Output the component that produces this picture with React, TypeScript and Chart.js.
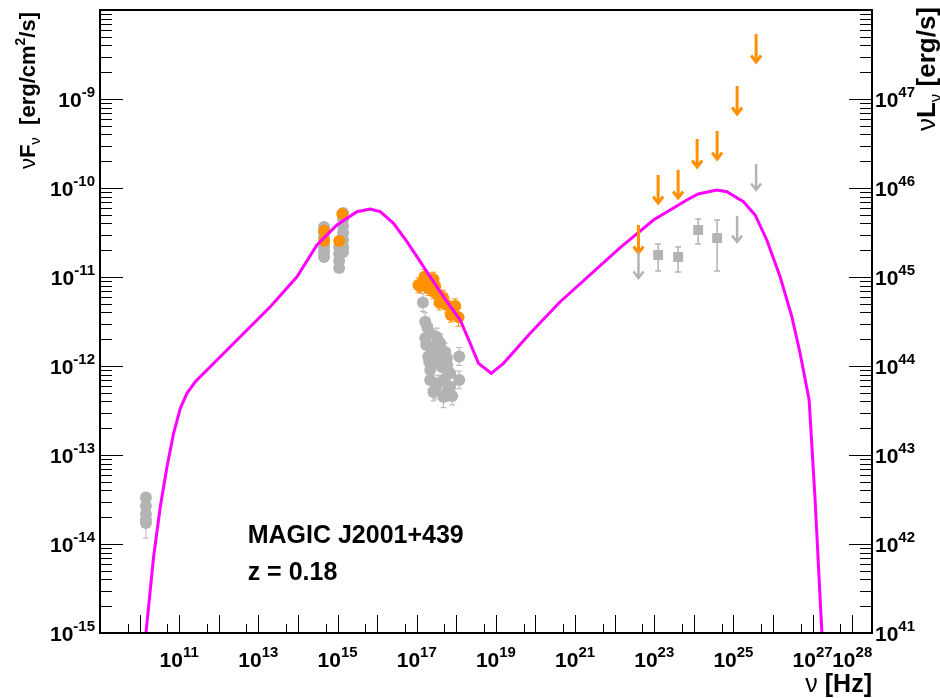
import React, { useEffect, useRef } from "react";
import { Chart, registerables } from "chart.js";
Chart.register(...registerables);

// ---------- data (log10 values) ----------
// SSC model curve
const modelLogNu = [10.15, 10.354, 10.523, 10.692, 10.859, 11.028, 11.197, 11.407, 11.785, 12.543, 13.301, 13.975, 14.48, 14.985, 15.49, 15.826, 16.078, 16.414, 16.753, 17.088, 17.424, 17.763, 18.098, 18.351, 18.561, 18.881, 19.192, 19.866, 20.624, 22.139, 22.98, 23.823, 24.109, 24.581, 24.833, 25.253, 25.548, 25.843, 26.179, 26.475, 26.684, 26.912, 27.063, 27.24];
const modelLogFlux = [-15.05, -14.143, -13.581, -13.131, -12.756, -12.475, -12.307, -12.176, -12.008, -11.671, -11.334, -10.997, -10.64, -10.416, -10.266, -10.236, -10.266, -10.397, -10.603, -10.828, -11.053, -11.278, -11.483, -11.745, -11.97, -12.082, -11.97, -11.633, -11.278, -10.671, -10.36, -10.135, -10.067, -10.022, -10.042, -10.154, -10.303, -10.584, -10.997, -11.446, -11.857, -12.382, -13.506, -15.05];

// archival (gray) data
const grayRadioLogNu = [10.16, 10.16, 10.16, 10.16, 10.16];
const grayRadioLogFlux = [-13.478, -13.573, -13.663, -13.73, -13.764];
const grayRadioErr = [0.05, 0.05, 0.05, 0.05, 0.17];

const grayOptLogNu = [14.66, 14.66, 14.66, 14.66, 14.66, 14.66, 14.66, 15.14, 15.14, 15.14, 15.14, 15.14, 15.14, 15.14, 15.04, 15.04, 15.04, 15.04];
const grayOptLogFlux = [-10.438, -10.494, -10.551, -10.607, -10.663, -10.719, -10.775, -10.281, -10.348, -10.427, -10.506, -10.584, -10.663, -10.719, -10.663, -10.742, -10.82, -10.899];
const grayOptErr = [0.03, 0.03, 0.03, 0.03, 0.03, 0.03, 0.03, 0.03, 0.03, 0.03, 0.03, 0.03, 0.03, 0.03, 0.03, 0.03, 0.03, 0.03];

const grayXrayLogNu = [17.157, 17.215, 17.265, 17.341, 17.215, 17.51, 17.593, 17.72, 17.29, 17.763, 18.073, 17.341, 17.636, 17.846, 17.341, 17.677, 18.073, 17.467, 17.846, 17.424, 17.677, 17.896, 17.24, 17.391, 17.391, 17.517, 17.77, 17.517, 17.77, 17.316, 17.492];
const grayXrayLogFlux = [-11.287, -11.502, -11.562, -11.629, -11.685, -11.674, -11.742, -11.843, -11.896, -11.91, -11.893, -12.045, -12.011, -12.082, -12.157, -12.157, -12.157, -12.27, -12.236, -12.292, -12.348, -12.337, -11.764, -11.955, -11.798, -11.933, -11.989, -12.202, -12.292, -11.955, -11.843];
const grayXrayErr = [0.1, 0.1, 0.1, 0.1, 0.1, 0.1, 0.1, 0.1, 0.1, 0.1, 0.1, 0.1, 0.1, 0.1, 0.1, 0.1, 0.1, 0.1, 0.1, 0.1, 0.12, 0.1, 0.1, 0.1, 0.1, 0.1, 0.1, 0.1, 0.1, 0.1, 0.1];

// archival gamma-ray (gray squares) with asymmetric errors
const grayGammaLogNu = [23.098, 23.603, 24.109, 24.588];
const grayGammaLogFlux = [-10.753, -10.775, -10.472, -10.562];
const grayGammaLogLo = [-10.933, -10.944, -10.629, -10.933];
const grayGammaLogHi = [-10.629, -10.663, -10.348, -10.36];

// archival upper limits (gray)
const grayUlLogNu = [22.601, 25.093, 25.573];
const grayUlLogFlux = [-10.719, -10.315, -9.73];

// simultaneous (orange) data
const orangeOptLogNu = [14.664, 14.664, 15.119, 15.043];
const orangeOptLogFlux = [-10.48, -10.592, -10.292, -10.596];
const orangeOptErr = [0.03, 0.03, 0.03, 0.03];

const orangeXrayLogNu = [17.088, 17.197, 17.045, 17.323, 17.424, 17.298, 17.424, 17.551, 17.662, 17.467, 17.576, 17.763, 17.972, 17.864, 18.056];
const orangeXrayLogFlux = [-11.101, -10.997, -11.09, -11.034, -11.026, -11.127, -11.165, -11.202, -11.228, -11.101, -11.289, -11.315, -11.326, -11.427, -11.453];
const orangeXrayErr = [0.08, 0.08, 0.08, 0.08, 0.08, 0.08, 0.08, 0.08, 0.08, 0.08, 0.08, 0.08, 0.08, 0.08, 0.1];

// simultaneous upper limits (orange)
const orangeUlLogNu = [22.601, 23.098, 23.603, 24.083, 24.588, 25.093, 25.573];
const orangeUlLogFlux = [-10.416, -9.854, -9.798, -9.449, -9.36, -8.854, -8.27];

// axes
const xLogMin = 9;
const xLogMax = 28.5;
const yLogMin = -15;
const yLogMax = -8;
const y2LogMin = 41;
const y2LogMax = 48;
const xMajorDecades = [10, 11, 12, 13, 14, 15, 16, 17, 18, 19, 20, 21, 22, 23, 24, 25, 26, 27, 28];
const xMinorMantissa = [5];
const xLabelExponents = [11, 13, 15, 17, 19, 21, 23, 25, 27, 28];
const yLabelExponents = [-15, -14, -13, -12, -11, -10, -9];
const y2LabelExponents = [41, 42, 43, 44, 45, 46, 47];
const yMinorMantissa = [2, 3, 4, 5, 6, 7, 8, 9];

const sourceName = "MAGIC J2001+439";
const redshiftText = "z = 0.18";

// ---------- helpers ----------
const P = (v: number) => Math.pow(10, v);
const toPts = (lx: number[], ly: number[]) => lx.map((v, i) => ({ x: P(v), y: P(ly[i]) }));
const symErr = (ly: number[], e: number[], sign: number) => ly.map((v, i) => P(v + sign * e[i]));

const FONT = '"Liberation Sans", Arial, Helvetica, sans-serif';
const GRAY = "#b3b3b3";
const ORANGE = "#ff9000";
const MAGENTA = "#ff00ff";

type Part = { t: string; size: number; dy: number; bold?: boolean };

function richWidth(ctx: CanvasRenderingContext2D, parts: Part[]) {
  let w = 0;
  for (const p of parts) {
    ctx.font = `${p.bold === false ? "" : "bold "}${p.size}px ${FONT}`;
    w += ctx.measureText(p.t).width;
  }
  return w;
}
function drawRich(ctx: CanvasRenderingContext2D, parts: Part[], x: number, y: number) {
  let cx = x;
  for (const p of parts) {
    ctx.font = `${p.bold === false ? "" : "bold "}${p.size}px ${FONT}`;
    ctx.fillText(p.t, cx, y + p.dy);
    cx += ctx.measureText(p.t).width;
  }
}
function powParts(exp: number): Part[] {
  return [
    { t: "10", size: 21, dy: 0 },
    { t: String(exp), size: 15, dy: -10 },
  ];
}

const rootPlugin = {
  id: "rootStyle",
  beforeDatasetsDraw(chart: any) {
    const ctx: CanvasRenderingContext2D = chart.ctx;
    const ys = chart.scales.y;
    const area = chart.chartArea;
    ctx.save();
    ctx.beginPath();
    ctx.rect(area.left, area.top, area.right - area.left, area.bottom - area.top);
    ctx.clip();
    chart.data.datasets.forEach((ds: any, i: number) => {
      if (!ds.errLo) return;
      const meta = chart.getDatasetMeta(i);
      ctx.strokeStyle = ds.errColor;
      ctx.lineWidth = ds.errWidth || 1;
      meta.data.forEach((el: any, j: number) => {
        const yl = ys.getPixelForValue(ds.errLo[j]);
        const yh = ys.getPixelForValue(ds.errHi[j]);
        const cw = ds.capHalf || 3;
        ctx.beginPath();
        ctx.moveTo(el.x, yl);
        ctx.lineTo(el.x, yh);
        ctx.moveTo(el.x - cw, yl);
        ctx.lineTo(el.x + cw, yl);
        ctx.moveTo(el.x - cw, yh);
        ctx.lineTo(el.x + cw, yh);
        ctx.stroke();
      });
    });
    ctx.restore();
  },
  afterDatasetsDraw(chart: any) {
    const ctx: CanvasRenderingContext2D = chart.ctx;
    ctx.save();
    chart.data.datasets.forEach((ds: any, i: number) => {
      if (!ds.ulArrow) return;
      const meta = chart.getDatasetMeta(i);
      const a = ds.ulArrow;
      ctx.strokeStyle = a.color;
      ctx.lineWidth = a.width;
      ctx.lineCap = "butt";
      meta.data.forEach((el: any) => {
        const x = el.x;
        const y0 = el.y;
        const y1 = el.y + a.len;
        ctx.beginPath();
        ctx.moveTo(x, y0);
        ctx.lineTo(x, y1 - 1);
        ctx.stroke();
        ctx.beginPath();
        ctx.moveTo(x - a.head, y1 - a.head * 1.3);
        ctx.lineTo(x, y1);
        ctx.lineTo(x + a.head, y1 - a.head * 1.3);
        ctx.stroke();
      });
    });
    ctx.restore();
  },
  afterDraw(chart: any) {
    const ctx: CanvasRenderingContext2D = chart.ctx;
    const xs = chart.scales.x;
    const ys = chart.scales.y;
    const y2 = chart.scales.y2;
    const { left, right, top, bottom } = chart.chartArea;
    ctx.save();
    ctx.fillStyle = "#000";
    ctx.strokeStyle = "#000";

    // ticks
    ctx.lineWidth = 1;
    ctx.beginPath();
    for (const d of xMajorDecades) {
      const px = Math.round(xs.getPixelForValue(P(d))) + 0.5;
      if (px > right) continue;
      ctx.moveTo(px, bottom);
      ctx.lineTo(px, bottom - 18);
    }
    for (let d = xLogMin; d <= xLogMax; d++) {
      for (const m of xMinorMantissa) {
        const v = m * P(d);
        if (Math.log10(v) >= xLogMax) continue;
        const px = Math.round(xs.getPixelForValue(v)) + 0.5;
        ctx.moveTo(px, bottom);
        ctx.lineTo(px, bottom - 9);
      }
    }
    for (let d = yLogMin; d < yLogMax; d++) {
      const py = Math.round(ys.getPixelForValue(P(d))) + 0.5;
      ctx.moveTo(left, py);
      ctx.lineTo(left + 23, py);
      for (const m of yMinorMantissa) {
        const q = Math.round(ys.getPixelForValue(m * P(d))) + 0.5;
        ctx.moveTo(left, q);
        ctx.lineTo(left + 12, q);
      }
    }
    for (let d = y2LogMin; d < y2LogMax; d++) {
      const py = Math.round(y2.getPixelForValue(P(d))) + 0.5;
      ctx.moveTo(right, py);
      ctx.lineTo(right - 23, py);
      for (const m of yMinorMantissa) {
        const q = Math.round(y2.getPixelForValue(m * P(d))) + 0.5;
        ctx.moveTo(right, q);
        ctx.lineTo(right - 12, q);
      }
    }
    ctx.stroke();

    // frame
    ctx.lineWidth = 2;
    ctx.strokeRect(left, top, right - left, bottom - top);

    // tick labels
    ctx.textAlign = "left";
    ctx.textBaseline = "alphabetic";
    for (const e of xLabelExponents) {
      const px = xs.getPixelForValue(P(e));
      const parts = powParts(e);
      const w = richWidth(ctx, parts);
      drawRich(ctx, parts, px - w / 2, bottom + 34);
    }
    for (const e of yLabelExponents) {
      const py = ys.getPixelForValue(P(e));
      const parts = powParts(e);
      const w = richWidth(ctx, parts);
      drawRich(ctx, parts, left - 5 - w, py + 8);
    }
    for (const e of y2LabelExponents) {
      const py = y2.getPixelForValue(P(e));
      drawRich(ctx, powParts(e), right + 3, py + 8);
    }

    // axis titles
    const leftTitle: Part[] = [
      { t: "ν", size: 22, dy: 0, bold: false },
      { t: "F", size: 22, dy: 0 },
      { t: "ν", size: 15, dy: 5, bold: false },
      { t: "  [erg/cm", size: 22, dy: 0 },
      { t: "2", size: 14, dy: -10 },
      { t: "/s]", size: 22, dy: 0 },
    ];
    ctx.save();
    ctx.translate(35, top + 2);
    ctx.rotate(-Math.PI / 2);
    drawRich(ctx, leftTitle, -richWidth(ctx, leftTitle), 0);
    ctx.restore();

    const rightTitle: Part[] = [
      { t: "ν", size: 26, dy: 0, bold: false },
      { t: "L", size: 26, dy: 0 },
      { t: "ν", size: 17, dy: 6, bold: false },
      { t: " [erg/s]", size: 26, dy: 0 },
    ];
    ctx.save();
    ctx.translate(935, top - 3);
    ctx.rotate(-Math.PI / 2);
    drawRich(ctx, rightTitle, -richWidth(ctx, rightTitle), 0);
    ctx.restore();

    const xTitle: Part[] = [
      { t: "ν", size: 25, dy: 0, bold: false },
      { t: " [Hz]", size: 25, dy: 0 },
    ];
    drawRich(ctx, xTitle, right - richWidth(ctx, xTitle), 692);

    // annotation
    ctx.font = `bold 25px ${FONT}`;
    ctx.fillText(sourceName, xs.getPixelForValue(P(12.73)), 543);
    ctx.fillText(redshiftText, xs.getPixelForValue(P(12.73)), 580);
    ctx.restore();
  },
};

export default function App() {
  const ref = useRef<HTMLCanvasElement | null>(null);
  useEffect(() => {
    document.body.style.margin = "0";
    const canvas = ref.current!;
    const chart = new Chart(canvas, {
      type: "scatter",
      data: {
        datasets: [
          {
            label: "SSC model",
            data: toPts(modelLogNu, modelLogFlux),
            showLine: true,
            borderColor: MAGENTA,
            borderWidth: 3,
            pointRadius: 0,
            tension: 0,
            fill: false,
            order: 0,
          } as any,
          {
            label: "simultaneous optical",
            data: toPts(orangeOptLogNu, orangeOptLogFlux),
            backgroundColor: ORANGE,
            borderWidth: 0,
            pointRadius: 6,
            errLo: symErr(orangeOptLogFlux, orangeOptErr, -1),
            errHi: symErr(orangeOptLogFlux, orangeOptErr, 1),
            errColor: ORANGE,
            capHalf: 3,
            order: 1,
          },
          {
            label: "simultaneous X-ray",
            data: toPts(orangeXrayLogNu, orangeXrayLogFlux),
            backgroundColor: ORANGE,
            borderWidth: 0,
            pointRadius: 6,
            errLo: symErr(orangeXrayLogFlux, orangeXrayErr, -1),
            errHi: symErr(orangeXrayLogFlux, orangeXrayErr, 1),
            errColor: ORANGE,
            capHalf: 3,
            order: 1,
          },
          {
            label: "simultaneous UL",
            data: toPts(orangeUlLogNu, orangeUlLogFlux),
            pointRadius: 0,
            ulArrow: { color: ORANGE, width: 3, len: 28, head: 5 },
            order: 1,
          },
          {
            label: "archival radio",
            data: toPts(grayRadioLogNu, grayRadioLogFlux),
            backgroundColor: GRAY,
            borderWidth: 0,
            pointRadius: 6,
            errLo: symErr(grayRadioLogFlux, grayRadioErr, -1),
            errHi: symErr(grayRadioLogFlux, grayRadioErr, 1),
            errColor: GRAY,
            capHalf: 3,
            order: 2,
          },
          {
            label: "archival optical",
            data: toPts(grayOptLogNu, grayOptLogFlux),
            backgroundColor: GRAY,
            borderWidth: 0,
            pointRadius: 6,
            errLo: symErr(grayOptLogFlux, grayOptErr, -1),
            errHi: symErr(grayOptLogFlux, grayOptErr, 1),
            errColor: GRAY,
            capHalf: 3,
            order: 2,
          },
          {
            label: "archival X-ray",
            data: toPts(grayXrayLogNu, grayXrayLogFlux),
            backgroundColor: GRAY,
            borderWidth: 0,
            pointRadius: 6,
            errLo: symErr(grayXrayLogFlux, grayXrayErr, -1),
            errHi: symErr(grayXrayLogFlux, grayXrayErr, 1),
            errColor: GRAY,
            capHalf: 3,
            order: 2,
          },
          {
            label: "archival gamma",
            data: toPts(grayGammaLogNu, grayGammaLogFlux),
            backgroundColor: GRAY,
            borderWidth: 0,
            pointStyle: "rect",
            pointRadius: 7,
            errLo: grayGammaLogLo.map(P),
            errHi: grayGammaLogHi.map(P),
            errColor: GRAY,
            errWidth: 1.5,
            capHalf: 3,
            order: 2,
          },
          {
            label: "archival UL",
            data: toPts(grayUlLogNu, grayUlLogFlux),
            pointRadius: 0,
            ulArrow: { color: GRAY, width: 2.5, len: 26, head: 5 },
            order: 2,
          },
        ] as any,
      },
      options: {
        animation: false,
        responsive: false,
        devicePixelRatio: 1,
        layout: { padding: { left: 100, right: 68, top: 10, bottom: 65 } },
        plugins: { legend: { display: false }, tooltip: { enabled: false } },
        scales: {
          x: { type: "logarithmic", min: P(xLogMin), max: P(xLogMax), display: false, bounds: "data" },
          y: { type: "logarithmic", min: P(yLogMin), max: P(yLogMax), display: false, bounds: "data" },
          y2: { type: "logarithmic", position: "right", min: P(y2LogMin), max: P(y2LogMax), display: false, bounds: "data" },
        },
      } as any,
      plugins: [rootPlugin],
    });
    return () => chart.destroy();
  }, []);
  return (
    <div style={{ width: 940, height: 698, background: "#fff" }}>
      <canvas ref={ref} width={940} height={698} style={{ display: "block" }} />
    </div>
  );
}
